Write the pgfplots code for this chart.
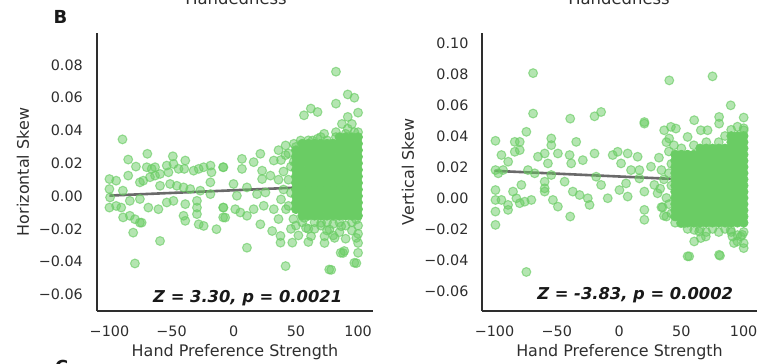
\documentclass[border=0pt]{standalone}
\usepackage{fontspec}
\setmainfont{DejaVu Sans}
\usepackage{pgfplots}
\pgfplotsset{compat=1.18}
\definecolor{mgreen}{HTML}{6ACC64}
\definecolor{regline}{HTML}{6A6A6A}
\definecolor{spine}{HTML}{2E2E2E}
\pgfplotsset{
  skewstyle/.style={
    scale only axis, width=276bp, height=278bp, clip=false,
    axis x line*=bottom, axis y line*=left,
    axis line style={-, line width=1.8bp, draw=spine},
    major tick length=0pt,
    scaled y ticks=false, scaled x ticks=false,
    xtick={-100,-50,0,50,100},
    xticklabels={−100,−50,0,50,100},
    ticklabel style={font=\fontsize{14.4}{16}\selectfont, text=spine},
    xticklabel style={anchor=base, inner sep=0pt, yshift=-25bp},
    yticklabel style={anchor=east, inner sep=0pt, xshift=-14bp},
    xlabel={Hand Preference Strength},
    every axis x label/.style={at={([yshift=-45bp]axis description cs:0.5,0)}, anchor=base, font=\fontsize{16}{18}\selectfont, text=spine},
    every axis y label/.style={at={([xshift=-74bp]axis description cs:0,0.5)}, anchor=center, rotate=90, font=\fontsize{16}{18}\selectfont, text=spine},
  },
  sparse/.style={only marks, mark=*, mark size=4.4bp, mark options={fill=mgreen, draw=mgreen, fill opacity=0.5, draw opacity=0.65, line width=1.1bp}},
  dense/.style={only marks, mark=*, mark size=4.5bp, mark options={fill=mgreen, draw=mgreen, line width=0.6bp}},
}
\begin{document}
\begin{tikzpicture}
% ---------------- left panel ----------------
\begin{axis}[skewstyle, at={(97bp,53bp)}, anchor=south west,
  xmin=-110, xmax=112, ymin=-0.0701, ymax=0.0995,
  ytick={-0.06,-0.04,-0.02,0,0.02,0.04,0.06,0.08},
  yticklabels={−0.06,−0.04,−0.02,0.00,0.02,0.04,0.06,0.08},
  ylabel={Horizontal Skew}]
\addplot[sparse] coordinates {
(-89.5,0.0346) (-84.9,0.0223) (-69.5,0.0258) (-78.7,0.018) (-49,0.0243) (-48.5,0.0196) (-39,0.0217) (-39.8,0.0166)
(-32.3,0.0155) (-28.2,0.0166) (-24.2,0.0176) (-18.7,0.0186) (-17.9,0.0145) (-8.6,0.0176) (-70,0.0176) (-66,0.0166)
(-63.3,0.0176) (-59.3,0.0135) (-53.9,0.0186) (-52.5,0.0145) (-44.4,0.0166) (-100,0.0104) (-94.6,0.0094) (-100,0.0043)
(-99.5,-0.0008) (-100,-0.007) (-94.6,-0.006) (-90.5,-0.007) (-89.2,0.0033) (-84.9,0.0125) (-75.5,0.0084) (-72.8,0.0094)
(-67.4,0.0115) (-63.3,0.0125) (-59.3,0.0063) (-51.2,0.0074) (-45.8,0.0063) (-40.4,0.0053) (-35,0.0043) (-26.9,0.0033)
(-18.8,0.0084) (-18.8,0.0012) (-83.6,-0.0029) (-75.5,-0.0018) (-68.7,-0.007) (-60.6,-0.008) (-53.9,-0.0039) (-48.5,-0.0029)
(-39,-0.0049) (-29.6,-0.0029) (-29.6,-0.007) (-8.5,-0.007) (-8.5,-0.013) (-89,-0.013) (-83.6,-0.012) (-79.5,-0.0141)
(-75.5,-0.0162) (-80.9,-0.0223) (-74.1,-0.0162) (-40.4,-0.012) (-39,-0.0151) (-29.6,-0.011) (-28.2,-0.0172) (-24.2,-0.0182)
(-13.9,-0.0202) (-59.3,-0.0274) (-79.5,-0.0411) (-8.3,0.0176) (6.6,0.0227) (6.6,0.0166) (16,0.0207) (21.4,0.0258)
(32.2,0.0217) (22.8,0.0155) (22.8,0.0104) (29.5,0.0125) (-0.2,0.0074) (2.5,0.0002) (10.6,0.0053) (18.7,0.0012)
(25.5,0.0022) (-8.3,-0.007) (-6.9,-0.0131) (1.2,-0.008) (5.3,-0.01) (10.6,-0.012) (16,-0.008) (24.1,-0.0059)
(32.2,-0.008) (21.4,-0.0172) (30.9,-0.0213) (37.6,-0.0243) (47.1,-0.0284) (37.6,-0.0284) (10.6,-0.0315) (41.7,-0.0427)
(76.8,-0.0448) (97,-0.0407) (100,-0.0346) (86,-0.0346) (88.9,-0.0335) (82.2,0.0759) (91.7,0.062) (97,0.060)
(82.2,0.0564) (100,0.0509) (91.7,0.0483) (56.5,0.0493) (62,0.0534) (67.4,0.0513) (91.7,0.0411) (97,0.039)
(100,0.039) (72.7,0.038) (82.2,0.039) (82.2,0.036) (41.7,0.0309) (48.4,0.0319) (53.8,0.0339) (63.3,0.0339)
(67.4,0.035) (78.1,0.0319) (41.7,0.025) (48.2,0.021)
(56.7,-0.0133) (58.1,-0.0194) (62.2,-0.0245) (70.3,-0.0163) (73,-0.0245) (73,-0.0286) (77,-0.0204) (81.1,-0.0255)
(86.5,-0.0184) (87.9,-0.0347) (98.6,-0.0143) (98.6,-0.0255) (98.6,-0.0409) (100,-0.0286) (78.4,-0.045)
(36,0.028) (38,0.022) (40,0.015) (36,0.010) (40,0.004) (38,-0.002) (42,-0.008) (36,-0.014) (44,0.026) (46,0.018)
(44,0.010) (46,0.002) (44,-0.006) (48,-0.014) (46,-0.020) (50,0.030) (50,-0.018) (52,-0.024) (65,-0.020) (85,-0.022)
(90,-0.026) (95,-0.021) (60,0.034) (70,0.036) (75,0.034) (90,0.038) (95,0.044) (87,0.044)
};
\addplot[dense] coordinates {
(50,-0.008) (50,-0.004) (50,0) (50,0.004) (50,0.008) (50,0.012) (50,0.016) (50,0.020) (50,0.024) (50,0.028)
(55,-0.012) (55,-0.008) (55,-0.004) (55,0) (55,0.004) (55,0.008) (55,0.012) (55,0.016) (55,0.020) (55,0.024) (55,0.028) (55,0.032)
(60,-0.012) (60,-0.008) (60,-0.004) (60,0) (60,0.004) (60,0.008) (60,0.012) (60,0.016) (60,0.020) (60,0.024) (60,0.028) (60,0.032)
(65,-0.012) (65,-0.008) (65,-0.004) (65,0) (65,0.004) (65,0.008) (65,0.012) (65,0.016) (65,0.020) (65,0.024) (65,0.028) (65,0.032)
(70,-0.012) (70,-0.008) (70,-0.004) (70,0) (70,0.004) (70,0.008) (70,0.012) (70,0.016) (70,0.020) (70,0.024) (70,0.028) (70,0.032)
(75,-0.012) (75,-0.008) (75,-0.004) (75,0) (75,0.004) (75,0.008) (75,0.012) (75,0.016) (75,0.020) (75,0.024) (75,0.028) (75,0.032)
(80,-0.012) (80,-0.008) (80,-0.004) (80,0) (80,0.004) (80,0.008) (80,0.012) (80,0.016) (80,0.020) (80,0.024) (80,0.028) (80,0.032)
(85,-0.012) (85,-0.008) (85,-0.004) (85,0) (85,0.004) (85,0.008) (85,0.012) (85,0.016) (85,0.020) (85,0.024) (85,0.028) (85,0.032) (85,0.036)
(90,-0.012) (90,-0.008) (90,-0.004) (90,0) (90,0.004) (90,0.008) (90,0.012) (90,0.016) (90,0.020) (90,0.024) (90,0.028) (90,0.032) (90,0.036)
(95,-0.012) (95,-0.008) (95,-0.004) (95,0) (95,0.004) (95,0.008) (95,0.012) (95,0.016) (95,0.020) (95,0.024) (95,0.028) (95,0.032) (95,0.036)
(100,-0.012) (100,-0.008) (100,-0.004) (100,0) (100,0.004) (100,0.008) (100,0.012) (100,0.016) (100,0.020) (100,0.024) (100,0.028) (100,0.032) (100,0.036)
};
\addplot[sparse] coordinates {
(55,-0.016) (60,-0.020) (65,-0.016) (70,-0.018) (75,-0.016) (75,-0.021) (80,-0.017) (80,-0.024)
(85,-0.016) (90,-0.018) (95,-0.016) (100,-0.018) (100,-0.023) (60,-0.028)
};
\addplot[regline, line width=2.6bp] coordinates {(-100,0.0003) (100,0.0068)};
\node[anchor=base, font=\fontsize{16.4}{18}\selectfont\bfseries\itshape, text=black!90, inner sep=0pt]
  at ([yshift=8.5bp]rel axis cs:0.546,0) {Z = 3.30, p = 0.0021};
\end{axis}
% ---------------- right panel ----------------
\begin{axis}[skewstyle, at={(482bp,53bp)}, anchor=south west, width=275bp,
  xmin=-110, xmax=110.7, ymin=-0.073, ymax=0.1065,
  ytick={-0.06,-0.04,-0.02,0,0.02,0.04,0.06,0.08,0.10},
  yticklabels={−0.06,−0.04,−0.02,0.00,0.02,0.04,0.06,0.08,0.10},
  yticklabel style={xshift=0.6bp},
  ylabel={Vertical Skew}]
\addplot[sparse] coordinates {
(-99.2,0.0369) (-94.4,0.0277) (-99.2,0.018) (-97,0.0159) (-93.1,0.018) (-99.2,0.0051) (-99.2,-0.0013) (-99.2,-0.0088)
(-99.2,-0.0174) (-89,0.0234) (-83.7,0.0362) (-79.7,0.0362) (-74.4,0.0427) (-83.7,0.0298) (-79.7,0.0309)
(-94.4,-0.0013) (-89.1,-0.0077) (-89.1,-0.0045) (-85.1,0.0041) (-82.4,-0.0002) (-79.7,-0.0034) (-75.7,-0.0024)
(-70.4,-0.0013) (-78.4,0.0084) (-73.1,0.018) (-67.7,0.0159) (-65.1,0.0266) (-59.7,0.0287) (-57.1,0.0223)
(-54.4,0.0384) (-54.4,0.0341) (-49.1,0.0287) (-54.4,0.0148) (-59.7,0.0105) (-59.7,0.0062) (-59.7,0.0041)
(-53.1,-0.0013) (-49.1,-0.0056) (-43.7,0.0105) (-39.7,0.0277) (-34.4,0.0362) (-38.4,0.0223) (-37.1,0.0041)
(-31.7,0.0019) (-29.1,0.0244) (-25.1,-0.0002) (-23.7,-0.0045) (-19.7,0.0287) (-18.4,0.0137) (-14.4,0.0084)
(-9.1,-0.0002) (-5.1,0.0277) (-1.1,0.0298) (1.6,0.0223) (6.9,0.0287) (9.6,0.018) (5.6,0.0094) (0.3,0.0051)
(6.9,0.0009) (14.9,0.0266) (16.3,0.018) (16.3,0.0126) (20.3,0.048) (20.3,0.0041) (20.3,-0.0077) (20.3,-0.0141)
(25.6,0.0202) (28.3,0.0084) (30.9,0.003) (-39.2,-0.012) (-74.4,-0.0478) (34,-0.006) (36,-0.0115)
(-69,0.0806) (-69,0.0545) (-39.2,0.0512) (-19.7,0.0527) (-14.4,0.0555) (40.3,0.0759) (75,0.0785) (89.6,0.0598)
(20.3,0.049) (60.3,0.0502) (80.3,0.0523) (100,0.0519) (80.3,0.048) (100,0.0437) (36.2,0.0437) (41.6,0.0459)
(45.6,0.0448) (40.2,0.0384) (55,0.0394) (65.6,0.0437) (71,0.0437)
(55,-0.0377) (80.3,-0.0367) (60.3,-0.0281) (69.6,-0.0249) (64.3,-0.0217) (98.9,-0.0238) (100,-0.0292) (100,-0.0324)
(95,-0.0281) (49.6,-0.0163) (56.3,-0.0377) (81,-0.0373) (65.6,-0.0259) (60.3,-0.0206) (52.3,-0.0163)
(53.6,-0.0098) (91,-0.0249) (97.6,-0.0249) (92.2,-0.0291) (89.6,-0.0206)
(32,0.026) (34,0.018) (36,0.012) (33,0.006) (38,0.000) (35,-0.006) (40,0.030) (42,0.022) (40,0.016) (42,0.008)
(40,-0.004) (42,-0.010) (38,0.036) (44,0.034) (38,-0.012)
};
\addplot[dense] coordinates {
(45,-0.012) (45,-0.008) (45,-0.004) (45,0) (45,0.004) (45,0.008) (45,0.012) (45,0.016) (45,0.020) (45,0.024) (45,0.028)
(50,-0.016) (50,-0.012) (50,-0.008) (50,-0.004) (50,0) (50,0.004) (50,0.008) (50,0.012) (50,0.016) (50,0.020) (50,0.024) (50,0.028)
(55,-0.016) (55,-0.012) (55,-0.008) (55,-0.004) (55,0) (55,0.004) (55,0.008) (55,0.012) (55,0.016) (55,0.020) (55,0.024) (55,0.028)
(60,-0.016) (60,-0.012) (60,-0.008) (60,-0.004) (60,0) (60,0.004) (60,0.008) (60,0.012) (60,0.016) (60,0.020) (60,0.024) (60,0.028)
(65,-0.016) (65,-0.012) (65,-0.008) (65,-0.004) (65,0) (65,0.004) (65,0.008) (65,0.012) (65,0.016) (65,0.020) (65,0.024) (65,0.028) (65,0.032)
(70,-0.016) (70,-0.012) (70,-0.008) (70,-0.004) (70,0) (70,0.004) (70,0.008) (70,0.012) (70,0.016) (70,0.020) (70,0.024) (70,0.028) (70,0.032)
(75,-0.016) (75,-0.012) (75,-0.008) (75,-0.004) (75,0) (75,0.004) (75,0.008) (75,0.012) (75,0.016) (75,0.020) (75,0.024) (75,0.028) (75,0.032)
(80,-0.016) (80,-0.012) (80,-0.008) (80,-0.004) (80,0) (80,0.004) (80,0.008) (80,0.012) (80,0.016) (80,0.020) (80,0.024) (80,0.028) (80,0.032)
(85,-0.016) (85,-0.012) (85,-0.008) (85,-0.004) (85,0) (85,0.004) (85,0.008) (85,0.012) (85,0.016) (85,0.020) (85,0.024) (85,0.028) (85,0.032)
(90,-0.016) (90,-0.012) (90,-0.008) (90,-0.004) (90,0) (90,0.004) (90,0.008) (90,0.012) (90,0.016) (90,0.020) (90,0.024) (90,0.028) (90,0.032) (90,0.036) (90,0.040)
(95,-0.016) (95,-0.012) (95,-0.008) (95,-0.004) (95,0) (95,0.004) (95,0.008) (95,0.012) (95,0.016) (95,0.020) (95,0.024) (95,0.028) (95,0.032) (95,0.036) (95,0.040)
(100,-0.016) (100,-0.012) (100,-0.008) (100,-0.004) (100,0) (100,0.004) (100,0.008) (100,0.012) (100,0.016) (100,0.020) (100,0.024) (100,0.028) (100,0.032) (100,0.036) (100,0.040)
};
\addplot[sparse] coordinates {
(45,-0.016) (55,-0.020) (65,-0.020) (70,-0.022) (75,-0.020) (80,-0.022) (85,-0.020) (90,-0.022) (95,-0.024)
(100,-0.022) (50,0.032) (60,0.034) (70,0.036) (80,0.036) (85,0.040) (90,0.044) (95,0.046) (100,0.045)
};
\addplot[regline, line width=2.6bp] coordinates {(-100,0.0175) (100,0.0102)};
\node[anchor=base, font=\fontsize{16.4}{18}\selectfont\bfseries\itshape, text=black!90, inner sep=0pt]
  at ([yshift=12bp]rel axis cs:0.557,0) {Z = -3.83, p = 0.0002};
\end{axis}
% ---------------- panel letters and (cut-off) titles ----------------
\node[anchor=base, font=\fontsize{16.5}{18}\selectfont, text=spine, inner sep=0pt] at (236bp,359bp) {Handedness};
\node[anchor=base, font=\fontsize{16.5}{18}\selectfont, text=spine, inner sep=0pt] at (619bp,359bp) {Handedness};
\node[anchor=base west, font=\fontsize{18}{20}\selectfont\bfseries, text=black!90, inner sep=0pt] at (53.5bp,340.7bp) {B};
\node[anchor=base west, font=\fontsize{18}{20}\selectfont\bfseries, text=black!90, inner sep=0pt] at (55bp,-9bp) {C};
\pgfresetboundingbox
\useasboundingbox (0,0) rectangle (774bp,364bp);
\end{tikzpicture}
\end{document}
